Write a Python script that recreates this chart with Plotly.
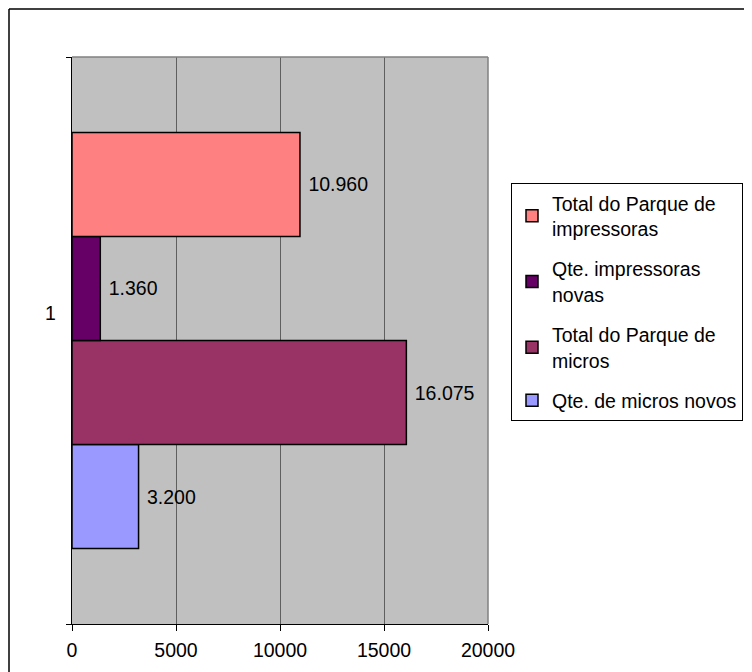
import plotly.graph_objects as go

# Data (bottom-to-top order in the plot)
category = ["1"]
series_names = [
    "Qte. de micros novos",
    "Total do Parque de<br>micros",
    "Qte. impressoras<br>novas",
    "Total do Parque de<br>impressoras",
]
series_values = [3200, 16075, 1360, 10960]
series_colors = ["#9999FF", "#993366", "#660066", "#FF8080"]
x_ticks = [0, 5000, 10000, 15000, 20000]

FONT = "Liberation Sans, Arial, sans-serif"
FS = 19.5

fig = go.Figure()
n = len(series_names)
for i, (name, val, col) in enumerate(zip(series_names, series_values, series_colors)):
    lab = " " + f"{val:,}".replace(",", ".")
    fig.add_trace(go.Bar(
        y=category, x=[val], orientation="h", name=name,
        legendgroup=f"g{n - i}", legendrank=n - i,
        marker=dict(color=col, line=dict(color="black", width=1.5)),
        text=[lab], textposition="outside", cliponaxis=False,
        textfont=dict(family=FONT, size=FS, color="black"),
    ))

OFF = 8  # page body margin offset
W, H = 752 - OFF, 672 - OFF
L, T = 72 - OFF, 57 - OFF
pw, ph = 416, 567
R, B = W - L - pw, H - T - ph

def px_x(px):
    return (px - OFF - L) / pw

def px_y(py):
    return (T + ph - (py - OFF)) / ph

fig.update_layout(
    width=W, height=H,
    margin=dict(l=L, r=R, t=T, b=B, pad=0, autoexpand=False),
    paper_bgcolor="white", plot_bgcolor="#C0C0C0",
    barmode="group", bargap=0.266, bargroupgap=0,
    font=dict(family=FONT, size=FS, color="black"),
    showlegend=True,
    legend=dict(
        traceorder="grouped",
        x=px_x(511), y=px_y(183), xanchor="left", yanchor="top",
        bgcolor="white", bordercolor="black", borderwidth=1,
        font=dict(family=FONT, size=FS, color="black"),
        tracegroupgap=12, itemwidth=30,
    ),
    xaxis=dict(
        range=[0, 20000], tickvals=x_ticks, ticktext=[str(v) for v in x_ticks],
        showgrid=True, gridcolor="#5f5f5f", gridwidth=1,
        zeroline=False, showline=True, linecolor="black", linewidth=1,
        ticks="outside", ticklen=6, tickcolor="black", tickwidth=1,
        ticklabelstandoff=3,
        tickfont=dict(family=FONT, size=FS, color="black"),
    ),
    yaxis=dict(
        type="category", tickson="boundaries",
        showgrid=False, zeroline=False, showline=True, linecolor="black", linewidth=1,
        ticks="outside", ticklen=5, tickcolor="black", tickwidth=1,
        showticklabels=False,
    ),
    shapes=[
        dict(type="line", xref="paper", yref="paper", x0=0, x1=1, y0=1, y1=1,
             line=dict(color="#808080", width=1.5)),
        dict(type="line", xref="paper", yref="paper", x0=1, x1=1, y0=0, y1=1,
             line=dict(color="#808080", width=1.5)),
        dict(type="line", xref="paper", yref="paper", x0=px_x(9), x1=px_x(9),
             y0=px_y(700), y1=px_y(9), line=dict(color="black", width=1.5)),
        dict(type="line", xref="paper", yref="paper", x0=px_x(9), x1=px_x(780),
             y0=px_y(9), y1=px_y(9), line=dict(color="black", width=1.5)),
    ],
    annotations=[
        dict(text=category[0], xref="paper", yref="paper", x=0, y=px_y(313),
             xanchor="right", yanchor="middle", xshift=-14, showarrow=False,
             font=dict(family=FONT, size=FS, color="black")),
    ],
)

fig.write_html("out.html")
